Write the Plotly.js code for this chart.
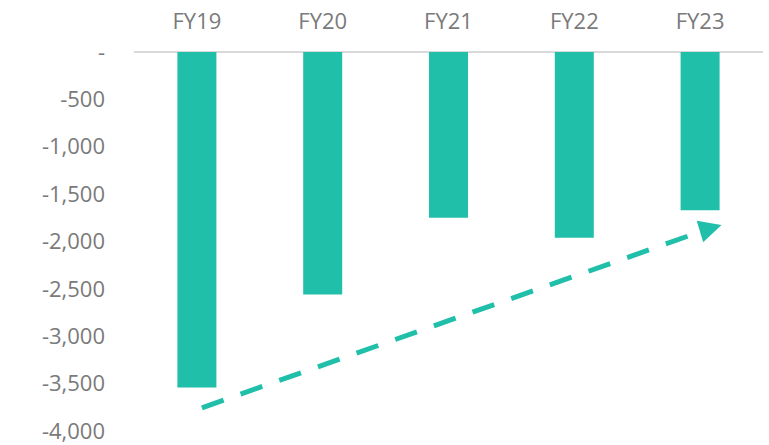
<!DOCTYPE html>
<html><head><meta charset="utf-8">
<script src="https://cdn.plot.ly/plotly-3.0.1.min.js"></script>
<style>html,body{margin:0;padding:0;background:#fff}#chart{width:769px;height:445px}</style>
</head><body><div id="chart"></div>
<script>
const categories = ["FY19","FY20","FY21","FY22","FY23"];
const values = [-3540, -2560, -1750, -1960, -1670];
const tickValues = [0,-500,-1000,-1500,-2000,-2500,-3000,-3500,-4000];
const tickLabels = ["-","-500","-1,000","-1,500","-2,000","-2,500","-3,000","-3,500","-4,000"];
const trendX = [0.04, 4.07];
const trendY = [-3755, -1865];
const arrowTip = {x: 4.17, y: -1825};

const teal = "#20BFAA";
const font = {family: "Open Sans, sans-serif", size: 22, color: "#7a7a7a"};

const data = [
  {type: "bar", x: categories, y: values, marker: {color: teal}, hoverinfo: "none"},
  {type: "scatter", mode: "lines", x: trendX, y: trendY, xaxis: "x2",
   line: {color: teal, width: 5, dash: "23px,18px"}, hoverinfo: "none"}
];
const layout = {
  width: 769, height: 445,
  margin: {l: 134, r: 6, t: 52, b: 14},
  paper_bgcolor: "#fff", plot_bgcolor: "#fff",
  showlegend: false, bargap: 0.69,
  font: font,
  xaxis: {side: "top", type: "category", showgrid: false, zeroline: false, showline: false,
          ticks: "", tickfont: font, ticklabelstandoff: 18, range: [-0.5, 4.5]},
  xaxis2: {overlaying: "x", range: [-0.5, 4.5], visible: false},
  yaxis: {range: [-4000, 0], tickvals: tickValues, ticktext: tickLabels, showgrid: false,
          zeroline: true, zerolinecolor: "#d9d9d9", zerolinewidth: 2, showline: false,
          ticks: "", tickfont: font, ticklabelstandoff: 28},
  annotations: [{xref: "x2", yref: "y", axref: "x2", ayref: "y",
                 x: arrowTip.x, y: arrowTip.y, ax: trendX[1], ay: trendY[1],
                 text: "", showarrow: true, arrowhead: 2, arrowsize: 0.9,
                 arrowwidth: 5, arrowcolor: teal, standoff: 0}]
};
Plotly.newPlot("chart", data, layout, {displayModeBar: false, staticPlot: true});
</script></body></html>
